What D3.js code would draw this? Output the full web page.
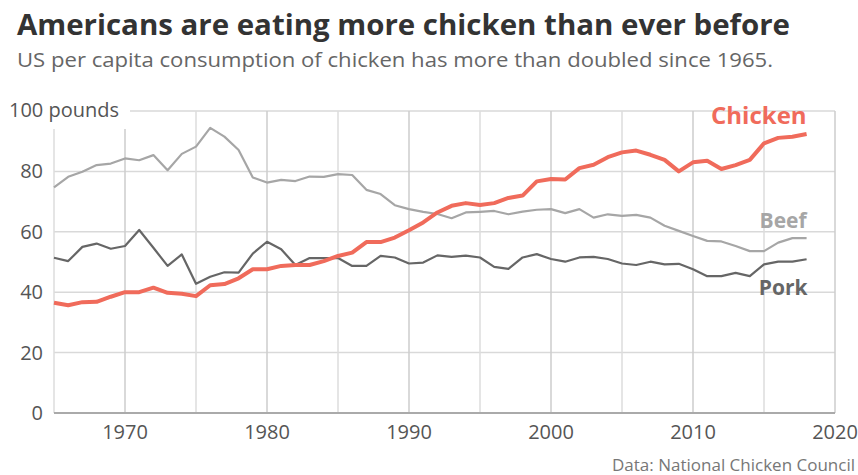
<!DOCTYPE html>
<html>
<head>
<meta charset="utf-8">
<script src="https://cdn.jsdelivr.net/npm/d3@7"></script>
<style>
  body { margin: 0; background: #fff; font-family: "Open Sans", sans-serif; }
</style>
</head>
<body>
<div id="chart"></div>
<script>
const years = d3.range(1965, 2019);

// pounds per capita
const chicken = [36.5, 35.7, 36.7, 36.8, 38.5, 40.0, 40.0, 41.5, 39.8, 39.5,
  38.7, 42.3, 42.7, 44.6, 47.6, 47.6, 48.7, 49.0, 49.0, 50.3,
  52.0, 53.1, 56.6, 56.6, 58.1, 60.5, 63.1, 66.4, 68.6, 69.5,
  68.9, 69.5, 71.2, 72.0, 76.7, 77.5, 77.3, 81.1, 82.2, 84.7,
  86.3, 86.9, 85.5, 83.8, 80.0, 83.0, 83.5, 80.8, 82.1, 83.8,
  89.3, 91.1, 91.5, 92.4];
const beef = [74.7, 78.2, 79.9, 82.1, 82.6, 84.3, 83.7, 85.4, 80.4, 85.8,
  88.2, 94.4, 91.5, 87.1, 78.0, 76.3, 77.2, 76.8, 78.3, 78.2,
  79.1, 78.8, 73.9, 72.5, 68.8, 67.5, 66.6, 65.9, 64.5, 66.4,
  66.6, 66.9, 65.8, 66.7, 67.3, 67.5, 66.2, 67.5, 64.7, 65.8,
  65.3, 65.6, 64.7, 62.0, 60.3, 58.6, 57.0, 56.8, 55.3, 53.6,
  53.6, 56.4, 57.9, 57.9];
const pork = [51.4, 50.3, 55.0, 56.1, 54.4, 55.3, 60.6, 54.7, 48.7, 52.5,
  42.8, 45.1, 46.6, 46.5, 52.8, 56.7, 54.2, 49.0, 51.3, 51.3,
  51.3, 48.7, 48.7, 52.0, 51.5, 49.5, 49.8, 52.2, 51.7, 52.1,
  51.5, 48.4, 47.7, 51.5, 52.6, 51.0, 50.1, 51.5, 51.7, 51.0,
  49.5, 49.0, 50.1, 49.2, 49.4, 47.6, 45.3, 45.3, 46.4, 45.3,
  49.2, 50.1, 50.1, 50.9];

const xTicks = [1970, 1980, 1990, 2000, 2010, 2020];
const yTicks = [0, 20, 40, 60, 80, 100];

const width = 858, height = 475;
const margin = { top: 111, right: 23, bottom: 63, left: 54 };

const svg = d3.select("#chart").append("svg")
    .attr("width", width)
    .attr("height", height);

const x = d3.scaleLinear().domain([1965, 2020]).range([margin.left, width - margin.right]);
const y = d3.scaleLinear().domain([0, 100]).range([height - margin.bottom + 1, margin.top]);

// title + subtitle
svg.append("text")
    .attr("x", 17).attr("y", 35)
    .attr("fill", "#333")
    .attr("font-weight", 700)
    .attr("font-size", 28)
    .attr("textLength", 773)
    .attr("lengthAdjust", "spacingAndGlyphs")
    .text("Americans are eating more chicken than ever before");
svg.append("text")
    .attr("x", 17).attr("y", 67)
    .attr("fill", "#666")
    .attr("font-size", 20.5)
    .attr("textLength", 756)
    .attr("lengthAdjust", "spacingAndGlyphs")
    .text("US per capita consumption of chicken has more than doubled since 1965.");

// grid
const grid = svg.append("g");
grid.selectAll("line.h")
    .data(yTicks.filter(d => d > 0))
    .enter().append("line")
    .attr("class", "h")
    .attr("x1", x(1965)).attr("x2", x(2020))
    .attr("y1", d => y(d)).attr("y2", d => y(d))
    .attr("stroke", "#d9d9d9").attr("stroke-width", 1.5);
grid.selectAll("line.v")
    .data(d3.range(1965, 2021, 5))
    .enter().append("line")
    .attr("class", "v")
    .attr("x1", d => x(d)).attr("x2", d => x(d))
    .attr("y1", y(100)).attr("y2", y(0))
    .attr("stroke", d => d % 10 === 0 ? "#cccccc" : "#dddddd")
    .attr("stroke-width", 1.5);

// baseline
svg.append("line")
    .attr("x1", x(1965)).attr("x2", x(2020))
    .attr("y1", y(0)).attr("y2", y(0))
    .attr("stroke", "#aaa").attr("stroke-width", 2);

// y labels
svg.selectAll("text.ylab")
    .data(yTicks.filter(d => d < 100))
    .enter().append("text")
    .attr("class", "ylab")
    .attr("x", 43).attr("y", d => y(d))
    .attr("dy", "0.35em")
    .attr("text-anchor", "end")
    .attr("fill", "#555")
    .attr("font-size", 20)
    .text(d => d);

const topLab = svg.append("g");
topLab.append("rect")
    .attr("x", 4).attr("y", y(100) - 16)
    .attr("width", 126).attr("height", 34)
    .attr("fill", "#fff");
topLab.append("text")
    .attr("x", 9).attr("y", y(100))
    .attr("dy", "0.3em")
    .attr("fill", "#555")
    .attr("font-size", 20)
    .text("100 pounds");

// x labels
svg.selectAll("text.xlab")
    .data(xTicks)
    .enter().append("text")
    .attr("class", "xlab")
    .attr("x", d => x(d)).attr("y", 439)
    .attr("text-anchor", "middle")
    .attr("fill", "#555")
    .attr("font-size", 20)
    .text(d => d);

// lines
const line = d3.line().x(d => x(d[0])).y(d => y(d[1]));
const series = [
  { name: "Beef", values: beef, color: "#a6a6a6", w: 2.2 },
  { name: "Pork", values: pork, color: "#666666", w: 2.2 },
  { name: "Chicken", values: chicken, color: "#f06b5b", w: 4 }
];
series.forEach(s => {
  svg.append("path")
      .datum(years.map((yr, i) => [yr, s.values[i]]))
      .attr("fill", "none")
      .attr("stroke", s.color)
      .attr("stroke-width", s.w)
      .attr("stroke-linejoin", "round")
      .attr("d", line);
});

// series labels
svg.append("text")
    .attr("x", x(2018)).attr("y", 124)
    .attr("text-anchor", "end")
    .attr("fill", "#f06b5b")
    .attr("font-weight", 700)
    .attr("font-size", 24)
    .text("Chicken");
svg.append("text")
    .attr("x", x(2018)).attr("y", 228)
    .attr("text-anchor", "end")
    .attr("fill", "#a6a6a6")
    .attr("font-weight", 700)
    .attr("font-size", 21)
    .text("Beef");
svg.append("text")
    .attr("x", x(2018) + 1).attr("y", 295)
    .attr("text-anchor", "end")
    .attr("fill", "#666")
    .attr("font-weight", 700)
    .attr("font-size", 21)
    .text("Pork");

// source
svg.append("text")
    .attr("x", 855).attr("y", 471)
    .attr("text-anchor", "end")
    .attr("fill", "#777")
    .attr("font-size", 17)
    .text("Data: National Chicken Council");
</script>
</body>
</html>
